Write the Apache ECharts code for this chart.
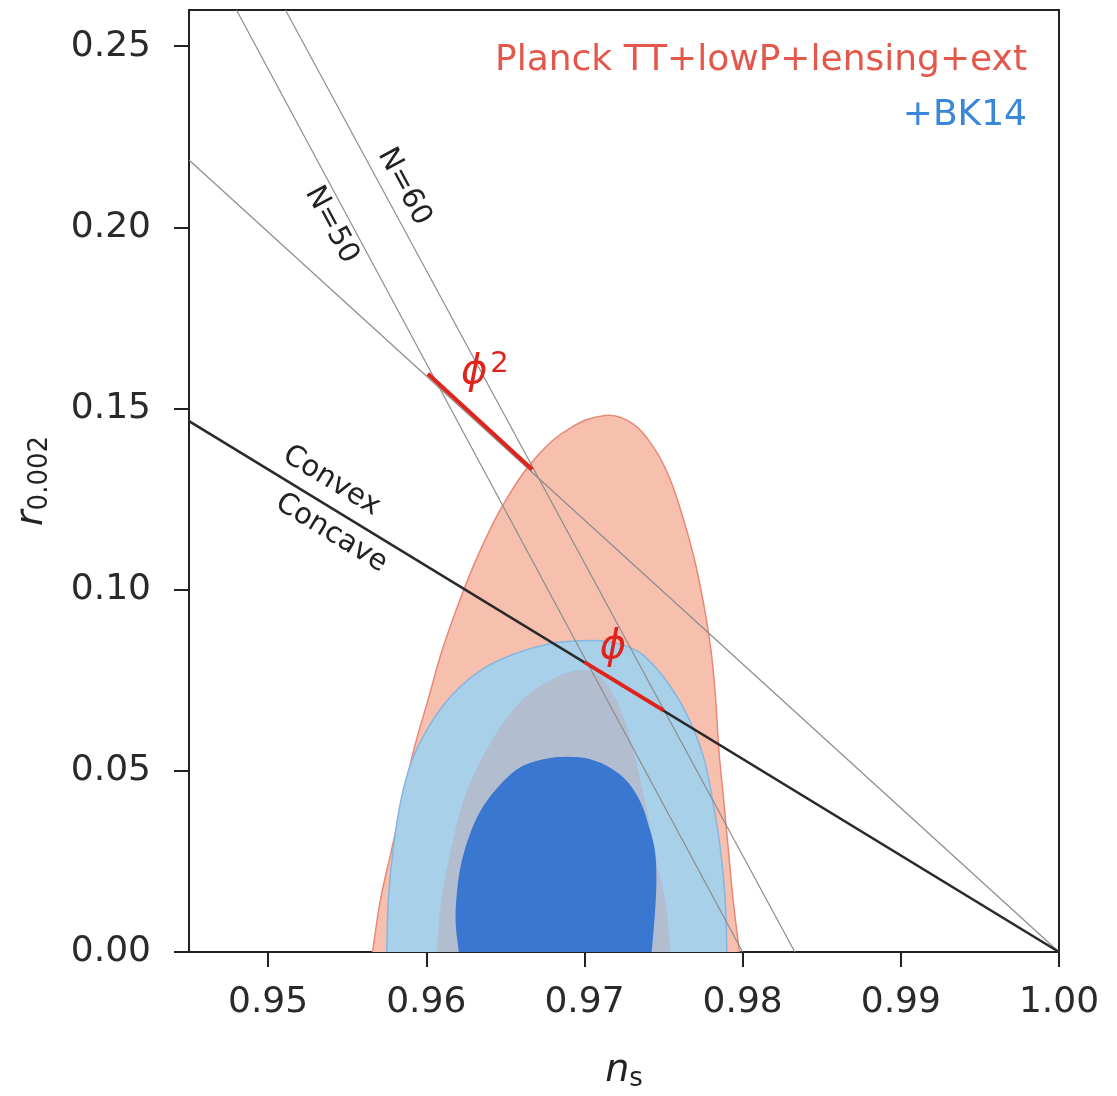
<!DOCTYPE html>
<html>
<head>
<meta charset="utf-8">
<script src="https://cdn.jsdelivr.net/npm/echarts@6/dist/echarts.min.js"></script>
</head>
<body style="margin:0;background:#fff;">
<div id="main" style="width:1117px;height:1096px;"></div>
<script>
var xTicks = [0.95, 0.96, 0.97, 0.98, 0.99, 1.00];
var yTicks = [0.00, 0.05, 0.10, 0.15, 0.20, 0.25];

// contours, [n_s, r]
var planck95 = [[0.9566, 0], [0.9571, 0.0143], [0.9578, 0.0281], [0.9585, 0.0419], [0.9592, 0.0556],
    [0.9601, 0.0694], [0.9610, 0.0832], [0.9621, 0.0969], [0.9634, 0.1107], [0.9650, 0.1245],
    [0.9670, 0.1368], [0.9691, 0.1446], [0.9713, 0.1481], [0.9728, 0.1465], [0.9741, 0.1410],
    [0.9752, 0.1327], [0.9761, 0.1217], [0.9769, 0.1093], [0.9775, 0.0969], [0.9780, 0.0832],
    [0.9783, 0.0694], [0.9785, 0.0556], [0.9788, 0.0419], [0.9791, 0.0281], [0.9794, 0.0143],
    [0.9798, 0]];
var bk95 = [[0.9575, 0], [0.9576, 0.0143], [0.9579, 0.0281], [0.9584, 0.0419], [0.9591, 0.0529],
    [0.9602, 0.0625], [0.9616, 0.0708], [0.9634, 0.0776], [0.9656, 0.0823], [0.9678, 0.0851],
    [0.9697, 0.0859], [0.9716, 0.0856], [0.9733, 0.0832], [0.9744, 0.0790], [0.9754, 0.0735],
    [0.9765, 0.0653], [0.9775, 0.0542], [0.9781, 0.0419], [0.9786, 0.0281], [0.9789, 0.0143],
    [0.9790, 0]];
var overlap68 = [[0.9607, 0], [0.9610, 0.0143], [0.9616, 0.0281], [0.9624, 0.0419], [0.9635, 0.0529],
    [0.9648, 0.0625], [0.9662, 0.0699], [0.9679, 0.0749], [0.9697, 0.0776], [0.9708, 0.0765],
    [0.9717, 0.0716], [0.9725, 0.0639], [0.9732, 0.0529], [0.9739, 0.0391], [0.9745, 0.0253],
    [0.9751, 0.0129], [0.9754, 0]];
var bk68 = [[0.9621, 0], [0.9619, 0.0088], [0.9620, 0.0171], [0.9623, 0.0253], [0.9629, 0.0336],
    [0.9637, 0.0405], [0.9648, 0.0465], [0.9660, 0.0509], [0.9675, 0.0531], [0.9689, 0.0537],
    [0.9703, 0.0531], [0.9716, 0.0507], [0.9727, 0.0468], [0.9735, 0.0413], [0.9740, 0.0350],
    [0.9744, 0.0281], [0.9745, 0.0198], [0.9744, 0.0102], [0.9742, 0]];

// model lines
var lineN50 = [[0.9480, 0.26], [0.9800, 0]];
var lineN60 = [[0.9511, 0.26], [0.9833, 0]];
var linePhi2 = [[0.945, 0.2186], [1.0, 0]];
var lineConvex = [[0.945, 0.1465], [1.0, 0]];
var segPhi2 = [[0.9601, 0.1596], [0.9667, 0.1332]];
var segPhi = [[0.9700, 0.0800], [0.9750, 0.0667]];

var noteText = ['N=50', 'N=60', 'Convex', 'Concave', '{p|ϕ}{sup|2}', '{p|ϕ}'];
var notePos = [[0.9540, 0.2007], [0.9586, 0.2112], [0.9540, 0.1300], [0.9540, 0.1156],
    [0.9637, 0.1600], [0.9718, 0.0840]];
var noteRot = [-61.8, -61.8, -31.4, -31.4, 0, 0];
var noteColor = ['#222', '#222', '#222', '#222', '#e0241c', '#e0241c'];

var FONT = 'DejaVu Sans';

// carry the end segments on past r=0 so the smoothing does not flare at the axis
function extendEnds(pts) {
    var a = pts[0], b = pts[1], y = pts[pts.length - 1], z = pts[pts.length - 2];
    return [[2 * a[0] - b[0], 2 * a[1] - b[1]]].concat(pts, [[2 * y[0] - z[0], 2 * y[1] - z[1]]]);
}

function contour(pts, fill, stroke, z) {
    var full = extendEnds(pts);
    return {
        type: 'custom',
        z: z,
        silent: true,
        clip: true,
        data: [pts[0]],
        renderItem: function (params, api) {
            return {
                type: 'polygon',
                shape: { points: full.map(function (p) { return api.coord(p); }), smooth: 0.4 },
                style: { fill: fill, stroke: stroke, lineWidth: 1.5 }
            };
        }
    };
}

function line(pts, color, width, z) {
    return {
        type: 'line', data: pts, z: z, silent: true, symbol: 'none',
        lineStyle: { color: color, width: width }
    };
}

var nameRich = {
    i: { fontFamily: FONT, fontStyle: 'italic', fontSize: 38, color: '#222' },
    s: { fontFamily: FONT, fontSize: 26, color: '#222', verticalAlign: 'bottom', padding: [16, 0, 0, 0] }
};

var chart = echarts.init(document.getElementById('main'));
chart.setOption({
    animation: false,
    backgroundColor: '#fff',
    grid: {
        left: 189, right: 58, top: 10, bottom: 144, outerBoundsMode: 'none', containLabel: false,
        show: true, borderColor: '#222', borderWidth: 2
    },
    xAxis: {
        type: 'value', min: 0.945, max: 1.0,
        name: '{i|n}{s|s}', nameLocation: 'middle', nameGap: 98,
        nameTextStyle: { rich: nameRich },
        axisLine: { lineStyle: { color: '#222', width: 2 } },
        axisTick: { customValues: xTicks, length: 15, lineStyle: { color: '#222', width: 2 } },
        axisLabel: {
            customValues: xTicks, margin: 33, fontSize: 36, fontFamily: FONT, color: '#2a2a2a',
            formatter: function (v) { return v.toFixed(2); }
        },
        splitLine: { show: false }
    },
    yAxis: {
        type: 'value', min: 0, max: 0.26,
        name: '{i|r}{s|0.002}', nameLocation: 'middle', nameGap: 136, nameRotate: 90,
        nameTextStyle: { rich: nameRich },
        axisLine: { lineStyle: { color: '#222', width: 2 } },
        axisTick: { customValues: yTicks, length: 15, lineStyle: { color: '#222', width: 2 } },
        axisLabel: {
            customValues: yTicks, margin: 38, fontSize: 36, fontFamily: FONT, color: '#2a2a2a',
            formatter: function (v) { return v.toFixed(2); }
        },
        splitLine: { show: false }
    },
    graphic: [
        { type: 'text', x: 1027, y: 61, style: { text: 'Planck TT+lowP+lensing+ext', fill: '#e4574b', font: '36px "DejaVu Sans"', align: 'right', verticalAlign: 'middle' } },
        { type: 'text', x: 1027, y: 116, style: { text: '+BK14', fill: '#3a86d8', font: '36px "DejaVu Sans"', align: 'right', verticalAlign: 'middle' } }
    ],
    series: [
        contour(planck95, '#f7bfae', '#ea8878', 1),
        contour(bk95, '#a8d0e9', '#86b6e0', 2),
        contour(overlap68, '#b2bdd0', '#b2bdd0', 3),
        contour(bk68, '#3a77d0', '#3a77d0', 4),
        line(lineN50, '#8c8c8c', 1.2, 5),
        line(lineN60, '#8c8c8c', 1.2, 5),
        line(linePhi2, '#8c8c8c', 1.2, 5),
        line(lineConvex, '#2a2a2a', 2.6, 6),
        line(segPhi2, '#e0241c', 4, 7),
        line(segPhi, '#e0241c', 4, 7),
        {
            type: 'custom', z: 8, silent: true,
            data: notePos.map(function (p, i) { return [p[0], p[1], i]; }),
            renderItem: function (params, api) {
                var i = api.value(2);
                var c = api.coord([api.value(0), api.value(1)]);
                return {
                    type: 'text', x: c[0], y: c[1], rotation: noteRot[i] * Math.PI / 180,
                    style: {
                        text: noteText[i], fill: noteColor[i], fontSize: 29, fontFamily: FONT,
                        align: 'center', verticalAlign: 'middle',
                        rich: {
                            p: { fontSize: 40, fontStyle: 'italic', fontFamily: FONT, fill: noteColor[i] },
                            sup: { fontSize: 29, fontFamily: FONT, fill: noteColor[i], verticalAlign: 'top', padding: [0, 0, 16, 3] }
                        }
                    }
                };
            }
        }
    ]
});
</script>
</body>
</html>
